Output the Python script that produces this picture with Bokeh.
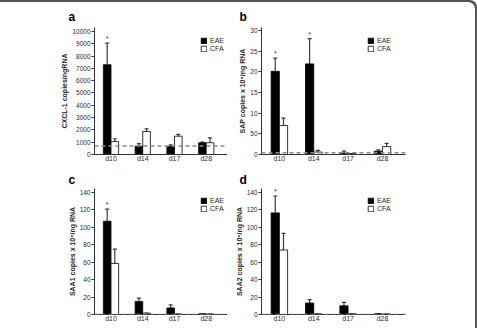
from bokeh.plotting import figure
from bokeh.models import (ColumnDataSource, FixedTicker, Whisker, TeeHead, Span,
                          Legend, LegendItem)
from bokeh.layouts import gridplot, column
from bokeh.core.properties import value
from bokeh.embed import file_html
from bokeh.resources import INLINE

FONT = "Liberation Sans"

days = ["d10", "d14", "d17", "d28"]

# CXCL-1 (copies/ng RNA)
cxcl1_eae = [7300, 680, 650, 950]
cxcl1_eae_err = [1750, 200, 140, 60]
cxcl1_cfa = [1050, 1870, 1490, 960]
cxcl1_cfa_err = [230, 220, 140, 390]
cxcl1_star = [1, 0, 0, 0]
cxcl1_ticks = [0, 1000, 2000, 3000, 4000, 5000, 6000, 7000, 8000, 9000, 10000]
cxcl1_tick_labels = ["0", "1000", "2000", "3000", "4000", "5000", "6000",
                     "7000", "8000", "9000", "10000"]

# SAP
sap_eae = [20.1, 21.9, 0.3, 0.8]
sap_eae_err = [3.2, 6.1, 0.5, 0.3]
sap_cfa = [7.0, 0.6, 0.2, 1.9]
sap_cfa_err = [1.8, 0.4, 0.0, 0.8]
sap_star = [1, 1, 0, 0]
sap_ticks = [0, 5, 10, 15, 20, 25, 30]
sap_tick_labels = ["0", "50", "10", "15", "20", "25", "30"]

# SAA1
saa1_eae = [107, 15, 7.5, 0.8]
saa1_eae_err = [14, 3.7, 3.5, 0.0]
saa1_cfa = [58.6, 1.5, 0.5, 0.5]
saa1_cfa_err = [16.4, 0.0, 0.0, 0.0]
saa1_star = [1, 0, 0, 0]

# SAA2
saa2_eae = [116.6, 13.2, 10.0, 0.8]
saa2_eae_err = [19.4, 3.8, 4.0, 0.0]
saa2_cfa = [74, 0.8, 0.8, 0.5]
saa2_cfa_err = [19.0, 0.0, 0.0, 0.0]
saa2_star = [1, 0, 0, 0]

saa_ticks = [0, 20, 40, 60, 80, 100, 120, 140]
saa_tick_labels = ["0", "20", "40", "60", "80", "100", "120", "140"]

# detection limit (dashed line) per panel
detection_limit = [700, 0.4, 0, 0]


def panel(letter, letter_offset, ylabel, eae, eae_err, cfa, cfa_err, star,
          ticks, tick_labels, ymax, limit, width, height, left, right, top,
          bottom, title_standoff):
    p = figure(width=width, height=height, output_backend="svg",
               toolbar_location=None, x_range=(-0.52, 3.67), y_range=(0, ymax),
               min_border_left=left, min_border_right=right,
               min_border_top=top, min_border_bottom=bottom,
               border_fill_color=None, background_fill_color=None,
               title=letter)
    p.outline_line_color = None
    p.grid.visible = False

    p.title.text_font = FONT
    p.title.text_font_size = "12px"
    p.title.text_font_style = "bold"
    p.title.text_color = "black"
    p.title.align = "left"
    p.title.offset = letter_offset
    p.title.standoff = title_standoff

    xs = list(range(len(days)))
    half = 0.12
    src = ColumnDataSource(dict(
        xe=[x - half for x in xs], xc=[x + half for x in xs],
        eae=eae, cfa=cfa,
        eae_hi=[m + e for m, e in zip(eae, eae_err)],
        cfa_hi=[m + e for m, e in zip(cfa, cfa_err)],
    ))

    p.add_layout(Span(location=limit, dimension="width", line_color="#8a8a8a",
                      line_dash="4 3", line_width=1.5))

    for xcol, lo, hi in (("xe", "eae", "eae_hi"), ("xc", "cfa", "cfa_hi")):
        p.add_layout(Whisker(source=src, base=xcol, lower=lo, upper=hi,
                             line_color="#3a3a3a", line_width=1.2,
                             lower_head=None,
                             upper_head=TeeHead(size=4, line_color="#3a3a3a",
                                                line_width=1.2)))

    r_eae = p.vbar(x="xe", top="eae", width=0.24, source=src,
                   fill_color="black", line_color="black", line_width=0.8)
    r_cfa = p.vbar(x="xc", top="cfa", width=0.24, source=src,
                   fill_color="white", line_color="black", line_width=0.8)

    sx = [x - half for x, s in zip(xs, star) if s]
    sy = [m + e for m, e, s in zip(eae, eae_err, star) if s]
    p.text(x=sx, y=sy, text=["*"] * len(sx), text_align="center",
           text_baseline="bottom", text_font=value(FONT),
           text_font_size="7px", text_color="#333333", y_offset=-1)

    p.xaxis.ticker = FixedTicker(ticks=xs)
    p.xaxis.major_label_overrides = {i: d for i, d in enumerate(days)}
    p.xaxis.major_tick_in = 0
    p.xaxis.major_tick_out = 0
    p.xaxis.minor_tick_in = 0
    p.xaxis.minor_tick_out = 0
    p.xaxis.major_tick_line_color = None
    p.xaxis.minor_tick_line_color = None
    p.xaxis.axis_line_color = "#333333"
    p.xaxis.major_label_standoff = 0
    p.xaxis.major_label_text_font = FONT
    p.xaxis.major_label_text_font_size = "7px"
    p.xaxis.major_label_text_color = "#2a2a2a"

    p.yaxis.ticker = FixedTicker(ticks=ticks)
    p.yaxis.major_label_overrides = {t: l for t, l in zip(ticks, tick_labels)}
    p.yaxis.minor_tick_line_color = None
    p.yaxis.minor_tick_in = 0
    p.yaxis.minor_tick_out = 0
    p.yaxis.major_tick_in = 0
    p.yaxis.major_tick_out = 3
    p.yaxis.major_tick_line_color = "#333333"
    p.yaxis.axis_line_color = "#333333"
    p.yaxis.major_label_standoff = 1
    p.yaxis.major_label_text_font = FONT
    p.yaxis.major_label_text_font_size = "6.5px"
    p.yaxis.major_label_text_color = "#2a2a2a"
    p.yaxis.axis_label = ylabel
    p.yaxis.axis_label_text_font = FONT
    p.yaxis.axis_label_text_font_size = "7px"
    p.yaxis.axis_label_text_font_style = "bold"
    p.yaxis.axis_label_text_color = "#222222"
    p.yaxis.axis_label_standoff = 1

    legend = Legend(items=[LegendItem(label="EAE", renderers=[r_eae]),
                           LegendItem(label="CFA", renderers=[r_cfa])],
                    location=(106, 102), padding=0, margin=0, spacing=1,
                    glyph_width=7, glyph_height=7, label_height=7,
                    label_standoff=3, label_text_font=FONT,
                    label_text_font_size="7px", label_text_color="#2a2a2a",
                    border_line_color=None, background_fill_color=None)
    p.add_layout(legend)
    return p


# left column: frame from x=94 to the column's right edge
# right column: frame ends 72 px before the column's right edge
pa = panel("a", -26, "CXCL-1 copies/ngRNA", cxcl1_eae, cxcl1_eae_err,
           cxcl1_cfa, cxcl1_cfa_err, cxcl1_star, cxcl1_ticks, cxcl1_tick_labels,
           10325, detection_limit[0], 227, 168, 94, 0, 27, 14, 7)
pb = panel("b", -22, "SAP copies x 10\u2076/ng RNA", sap_eae, sap_eae_err,
           sap_cfa, sap_cfa_err, sap_star, sap_ticks, sap_tick_labels, 30.7,
           detection_limit[1], 250, 168, 34, 72, 27, 14, 7)
pc = panel("c", -26, "SAA1 copies x 10\u2076/ng RNA", saa1_eae,
           saa1_eae_err, saa1_cfa, saa1_cfa_err, saa1_star, saa_ticks,
           saa_tick_labels, 144.6, detection_limit[2], 227, 160, 94, 0, 20, 14, 4)
pd = panel("d", -22, "SAA2 copies x 10\u2076/ng RNA", saa2_eae,
           saa2_eae_err, saa2_cfa, saa2_cfa_err, saa2_star, saa_ticks,
           saa_tick_labels, 144.6, detection_limit[3], 250, 160, 34, 72, 20, 14, 4)

grid = gridplot([[pa, pb], [pc, pd]], toolbar_location=None)
page = column(grid, width=477, height=328,
              styles={"box-shadow": "inset -2px 2px 0 #555555",
                      "border-top-right-radius": "7px",
                      "overflow": "hidden"})

open("out.html", "w").write(file_html(page, INLINE))
